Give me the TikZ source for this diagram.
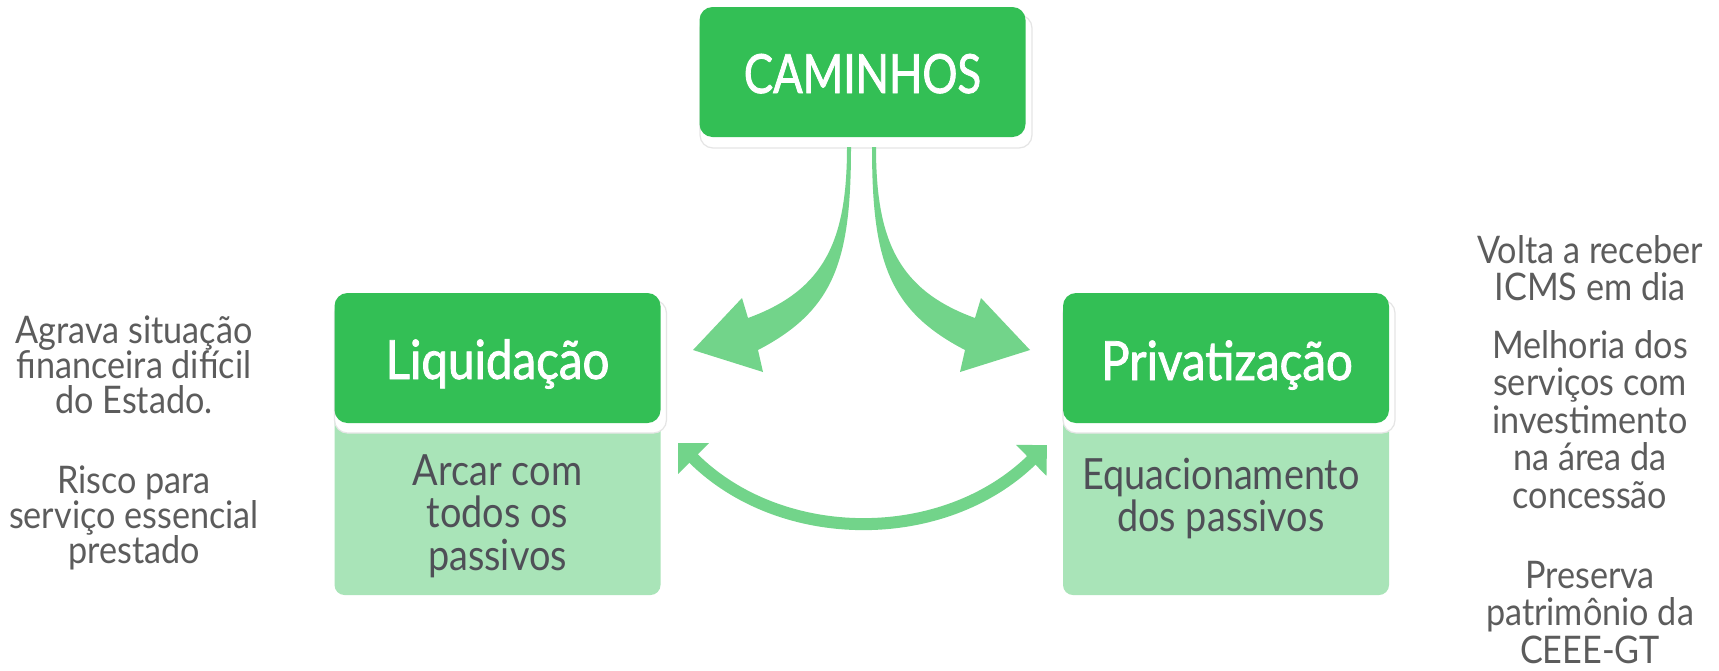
\documentclass[tikz,border=0pt]{standalone}
\usepackage{fontspec}
\setmainfont{Lato}[FakeStretch=0.88]
\newfontfamily\hdrfont{Lato}[FakeStretch=0.88, FakeBold=1.5]
\newfontfamily\capsfont{Lato}[FakeStretch=0.81, FakeBold=1.5]
\newfontfamily\sidefont{Lato}[FakeStretch=0.9]
\usetikzlibrary{arrows.meta}
\definecolor{dkgreen}{HTML}{33BF55}
\definecolor{ltgreen}{HTML}{A9E4B8}
\definecolor{argreen}{HTML}{72D48A}
\definecolor{txtgray}{HTML}{4F4F57}
\definecolor{sidegray}{HTML}{5C5C5C}
\tikzset{
  darkbox/.style={fill=dkgreen, rounded corners=6.5pt, minimum width=163pt, minimum height=65pt, inner sep=0pt},
  lightbox/.style={fill=ltgreen, rounded corners=5pt, minimum width=163pt, minimum height=97.5pt, inner sep=0pt},
  shadowbox/.style={fill=white, draw=black!10, line width=0.6pt, rounded corners=6.5pt, minimum width=166pt, minimum height=66.5pt, inner sep=0pt},
  hdrtext/.style={text=white, font=\hdrfont\fontsize{27}{27}\selectfont, anchor=base, inner sep=0pt},
  capstext/.style={text=white, font=\capsfont\fontsize{27}{27}\selectfont, anchor=base, inner sep=0pt},
  bodytext/.style={text=txtgray, font=\fontsize{21.5}{21.5}\selectfont, anchor=base, inner sep=0pt},
  sidetext/.style={text=sidegray, font=\sidefont\fontsize{19}{19}\selectfont, anchor=base, inner sep=0pt},
  bigarrow/.style={fill=argreen},
  bendarrow/.style={draw=argreen, line width=6pt, {Triangle[length=11pt,width=21pt]}-{Triangle[length=11pt,width=21pt]}},
}
\begin{document}
\begin{tikzpicture}[x=0.5pt,y=-0.5pt]
\useasboundingbox (0,0) rectangle (1719,670);
\fill[white] (0,0) rectangle (1719,670);

% boxes
\node[shadowbox] (camshadow) at (866,81.5) {};
\node[darkbox] (cam) at (862.5,72) {};
\node[capstext] (camtext) at (862.5,93) {CAMINHOS};

\node[lightbox] (liqlight) at (497.5,497.5) {};
\node[shadowbox] (liqshadow) at (500.5,366.5) {};
\node[darkbox] (liq) at (497.5,358) {};
\node[hdrtext] (liqtext) at (497.5,379) {Liquidação};

\node[lightbox] (privlight) at (1226,497.5) {};
\node[shadowbox] (privshadow) at (1229,366.5) {};
\node[darkbox] (priv) at (1226,358) {};
\node[hdrtext] (privtext) at (1227,380) {Privatização};

% body texts
\node[bodytext] (b1) at (497.5,485) {Arcar com};
\node[bodytext] (b2) at (497.5,527.5) {todos os};
\node[bodytext] (b3) at (497.5,570) {passivos};
\node[bodytext] (b4) at (1221,489) {Equacionamento};
\node[bodytext] (b5) at (1221,531) {dos passivos};

% left texts
\node[sidetext] (l1) at (134,343) {Agrava situação};
\node[sidetext] (l2) at (134,378) {financeira difícil};
\node[sidetext] (l3) at (134,413) {do Estado.};
\node[sidetext] (l4) at (134,493) {Risco para};
\node[sidetext] (l5) at (134,528) {serviço essencial};
\node[sidetext] (l6) at (134,563) {prestado};

% right texts
\node[sidetext] (r1) at (1590,263) {Volta a receber};
\node[sidetext] (r2) at (1590,300) {ICMS em dia};
\node[sidetext] (r3) at (1590,358) {Melhoria dos};
\node[sidetext] (r4) at (1590,395.5) {serviços com};
\node[sidetext] (r5) at (1590,433) {investimento};
\node[sidetext] (r6) at (1590,470.5) {na área da};
\node[sidetext] (r7) at (1590,508) {concessão};
\node[sidetext] (r8) at (1590,588) {Preserva};
\node[sidetext] (r9) at (1590,625.5) {patrimônio da};
\node[sidetext] (r10) at (1590,663) {CEEE-GT};

% curved arrows from CAMINHOS
\fill[bigarrow] (847,147) -- (851,147) .. controls (851,260) and (835,310) .. (758,350)
  -- (763,372) -- (693,350) -- (742,298) -- (748,318)
  .. controls (825,290) and (847,240) .. (847,147) -- cycle;
\fill[bigarrow] (876,147) -- (872,147) .. controls (872,260) and (888,310) .. (965,350)
  -- (960,372) -- (1030,350) -- (981,298) -- (975,318)
  .. controls (898,290) and (876,240) .. (876,147) -- cycle;

% double arrow between the two boxes
\coordinate (bl) at (678,443);
\coordinate (br) at (1047,445);
\draw[bendarrow] (bl) .. controls (781,546) and (944,546) .. (br);
\end{tikzpicture}
\end{document}
